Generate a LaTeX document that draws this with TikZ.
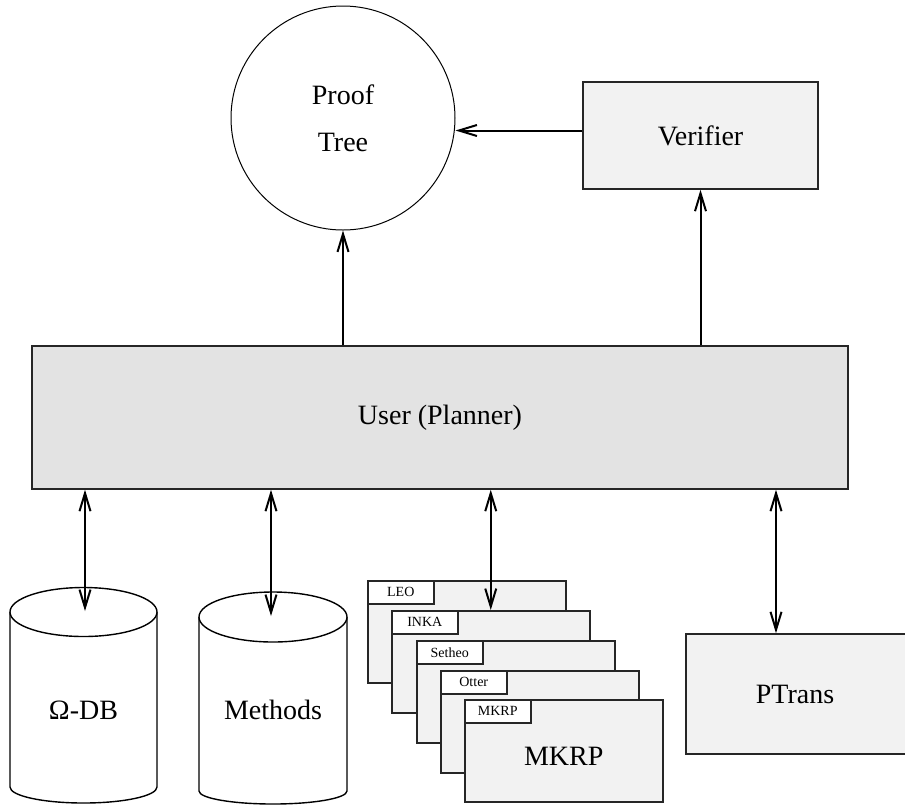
\documentclass[tikz,border=0pt]{standalone}
\usepackage{fontspec}
\setmainfont{Liberation Serif}
\usetikzlibrary{arrows.meta, calc}

\begin{document}
\begin{tikzpicture}[
  x=0.5pt, y=-0.5pt,
  caja/.style={rectangle, draw=black!85, line width=0.75pt, fill=black!5,
    align=center, font=\fontsize{14}{17}\selectfont},
  ventana/.style={caja, anchor=north west, minimum width=99pt, minimum height=51pt},
  pestana/.style={rectangle, draw=black!85, line width=0.75pt, fill=white,
    anchor=north west, minimum width=33pt, minimum height=11.5pt,
    inner sep=0pt, font=\fontsize{7}{8}\selectfont},
  cilindro/.style={draw=black, line width=0.7pt, fill=white},
  flecha/.style={-{Straight Barb[length=9pt, width=5.5pt]}, line width=1pt},
  dflecha/.style={{Straight Barb[length=9pt, width=5.5pt]}-{Straight Barb[length=9pt, width=5.5pt]}, line width=1pt}
]
  \useasboundingbox (0,0) rectangle (905,805);
  \clip (0,0) rectangle (905,805);

  % arriba
  \node[circle, draw, line width=0.5pt, minimum size=112pt, align=center,
    font=\fontsize{14}{23.5}\selectfont] (prooftree) at (343,118) {Proof\\Tree};
  \node[caja, minimum width=117.5pt, minimum height=53.5pt] (verifier) at (700.5,135.5) {Verifier};
  \node[caja, fill=black!11, minimum width=408pt, minimum height=71.5pt] (user) at (440,417.5) {User (Planner)};

  % cilindros
  \draw[cilindro] (10,612) -- (10,787) arc[start angle=180, end angle=0, x radius=73.5, y radius=16] -- (157,612);
  \draw[cilindro] (83.5,612) ellipse [x radius=73.5, y radius=24.5];
  \node[font=\fontsize{14}{17}\selectfont] (omegadb) at (83.5,710) {Ω-DB};
  \coordinate (dbtapa) at (85,611);

  \draw[cilindro] (199,617) -- (199,791) arc[start angle=180, end angle=0, x radius=74, y radius=13] -- (347,617);
  \draw[cilindro] (273,617) ellipse [x radius=74, y radius=25];
  \node[font=\fontsize{14}{17}\selectfont] (methods) at (273,710) {Methods};
  \coordinate (mettapa) at (271,616);

  % ventanas
  \node[ventana] (leo) at (367,580) {};
  \node[pestana] (leotab) at (leo.north west) {LEO};
  \node[ventana] (inka) at (391,610) {};
  \node[pestana] (inkatab) at (inka.north west) {INKA};
  \node[ventana] (setheo) at (416,640) {};
  \node[pestana] (setheotab) at (setheo.north west) {Setheo};
  \node[ventana] (otter) at (440,670) {};
  \node[pestana] (ottertab) at (otter.north west) {Otter};
  \node[ventana] (mkrp) at (464,699) {\raisebox{-7.4pt}[0pt][0pt]{MKRP}};
  \node[pestana] (mkrptab) at (mkrp.north west) {MKRP};

  \node[caja, minimum width=112pt, minimum height=60pt] (ptrans) at (798,694) {\hspace*{-3pt}PTrans};
  \coordinate (ptranstapa) at ([xshift=-11pt]ptrans.north);

  % flechas
  \draw[flecha] ([yshift=2.5pt]verifier.west) -- ([yshift=2.5pt]verifier.west -| prooftree.east);
  \draw[flecha] (user.north -| prooftree.south) -- (prooftree.south);
  \draw[flecha] (user.north -| verifier.south) -- (verifier.south);
  \draw[dflecha] (user.south -| dbtapa) -- (dbtapa);
  \draw[dflecha] (user.south -| mettapa) -- (mettapa);
  \draw[dflecha] (user.south -| inka.north) -- (inka.north);
  \draw[dflecha] (user.south -| ptranstapa) -- (ptranstapa);
\end{tikzpicture}
\end{document}
